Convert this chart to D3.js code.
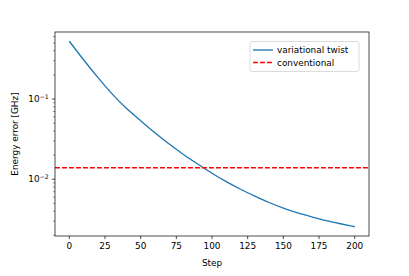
<!DOCTYPE html>
<html>
<head>
<meta charset="utf-8">
<script src="https://cdn.jsdelivr.net/npm/d3@7"></script>
<style>
  body { margin: 0; background: #fff; }
  text { font-family: "DejaVu Sans", sans-serif; fill: #000; }
</style>
</head>
<body>
<svg id="chart" width="409" height="276"></svg>
<script>
// data
var steps = [0, 10, 20, 30, 40, 50, 60, 70, 80, 90, 100, 110, 120, 130, 140, 150, 160, 170, 180, 190, 200];
var twistError = [0.525, 0.309, 0.186, 0.116, 0.0767, 0.0537, 0.0380, 0.0275, 0.0204, 0.0155, 0.0119,
                  0.00933, 0.00750, 0.00617, 0.00513, 0.00437, 0.00380, 0.00339, 0.00305, 0.00279, 0.00256];
var conventionalError = 0.0139;
var xTicks = [0, 25, 50, 75, 100, 125, 150, 175, 200];
var yMajor = [1e-2, 1e-1];
var yMinor = [0.002, 0.003, 0.004, 0.005, 0.006, 0.007, 0.008, 0.009,
              0.02, 0.03, 0.04, 0.05, 0.06, 0.07, 0.08, 0.09,
              0.2, 0.3, 0.4, 0.5, 0.6];
var legendNames = ["variational twist", "conventional"];

// plot box (note: "top" is taken by window.top)
var pLeft = 55, pRight = 369, pTop = 32, pBottom = 236;
var fs = 8.9;

var svg = d3.select("#chart");

var x = d3.scaleLinear().domain([-10, 210]).range([pLeft, pRight]);
var logMin = Math.log10(d3.min(twistError)), logMax = Math.log10(d3.max(twistError));
var pad = (logMax - logMin) * 0.05;
var y = d3.scaleLog().domain([Math.pow(10, logMin - pad), Math.pow(10, logMax + pad)]).range([pBottom, pTop]);

var pts = steps.map(function(s, i) { return [s, twistError[i]]; });

// curve
var line = d3.line()
  .x(function(d) { return x(d[0]); })
  .y(function(d) { return y(d[1]); })
  .curve(d3.curveNatural);

var plot = svg.append("g");
plot.append("path")
  .datum(pts)
  .attr("d", line)
  .attr("fill", "none")
  .attr("stroke", "#1f77b4")
  .attr("stroke-width", 1.33);

plot.append("line")
  .attr("x1", pLeft).attr("x2", pRight)
  .attr("y1", y(conventionalError)).attr("y2", y(conventionalError))
  .attr("stroke", "#ff0000")
  .attr("stroke-width", 1.33)
  .attr("stroke-dasharray", "4.9,2.1");

// frame
svg.append("rect")
  .attr("x", pLeft).attr("y", pTop)
  .attr("width", pRight - pLeft).attr("height", pBottom - pTop)
  .attr("fill", "none").attr("stroke", "#000").attr("stroke-width", 0.7);

// x axis
var xg = svg.append("g");
xg.selectAll("line").data(xTicks).enter().append("line")
  .attr("x1", function(d) { return x(d); }).attr("x2", function(d) { return x(d); })
  .attr("y1", pBottom).attr("y2", pBottom + 3.1)
  .attr("stroke", "#000").attr("stroke-width", 0.7);
xg.selectAll("text").data(xTicks).enter().append("text")
  .attr("x", function(d) { return x(d); })
  .attr("y", pBottom + 6.2 + fs * 0.76)
  .attr("text-anchor", "middle")
  .attr("font-size", fs)
  .text(function(d) { return d; });

svg.append("text")
  .attr("x", (pLeft + pRight) / 2).attr("y", 266)
  .attr("text-anchor", "middle").attr("font-size", fs)
  .text("Step");

// y axis
var yg = svg.append("g");
yg.selectAll("line.major").data(yMajor).enter().append("line")
  .attr("class", "major")
  .attr("x1", pLeft - 3.1).attr("x2", pLeft)
  .attr("y1", function(d) { return y(d); }).attr("y2", function(d) { return y(d); })
  .attr("stroke", "#000").attr("stroke-width", 0.7);
yg.selectAll("line.minor").data(yMinor.filter(function(d) {
    return d >= y.domain()[0] && d <= y.domain()[1];
  })).enter().append("line")
  .attr("class", "minor")
  .attr("x1", pLeft - 1.8).attr("x2", pLeft)
  .attr("y1", function(d) { return y(d); }).attr("y2", function(d) { return y(d); })
  .attr("stroke", "#000").attr("stroke-width", 0.5);

var ylab = yg.selectAll("text").data(yMajor).enter().append("text")
  .attr("x", pLeft - 6.2)
  .attr("y", function(d) { return y(d) + fs * 0.36; })
  .attr("text-anchor", "end")
  .attr("font-size", fs);
ylab.append("tspan").text("10");
ylab.append("tspan")
  .attr("dy", -fs * 0.4)
  .attr("font-size", fs * 0.7)
  .text(function(d) { return "\u2212" + Math.round(-Math.log10(d)); });

svg.append("text")
  .attr("transform", "translate(18," + ((pTop + pBottom) / 2) + ") rotate(-90)")
  .attr("text-anchor", "middle").attr("font-size", fs)
  .text("Energy error [GHz]");

// legend
var lg = svg.append("g");
lg.append("rect")
  .attr("x", 250).attr("y", 41.5)
  .attr("width", 109).attr("height", 30)
  .attr("rx", 2)
  .attr("fill", "#fff").attr("fill-opacity", 0.8)
  .attr("stroke", "#cccccc").attr("stroke-width", 0.7);
var legendStyle = [{c: "#1f77b4", dash: null}, {c: "#ff0000", dash: "4.9,2.1"}];
legendNames.forEach(function(name, i) {
  var ly = 50 + i * 12.5;
  lg.append("line")
    .attr("x1", 253).attr("x2", 273)
    .attr("y1", ly).attr("y2", ly)
    .attr("stroke", legendStyle[i].c)
    .attr("stroke-width", 1.33)
    .attr("stroke-dasharray", legendStyle[i].dash);
  lg.append("text")
    .attr("x", 277).attr("y", ly + fs * 0.36)
    .attr("font-size", fs)
    .text(name);
});
</script>
</body>
</html>
